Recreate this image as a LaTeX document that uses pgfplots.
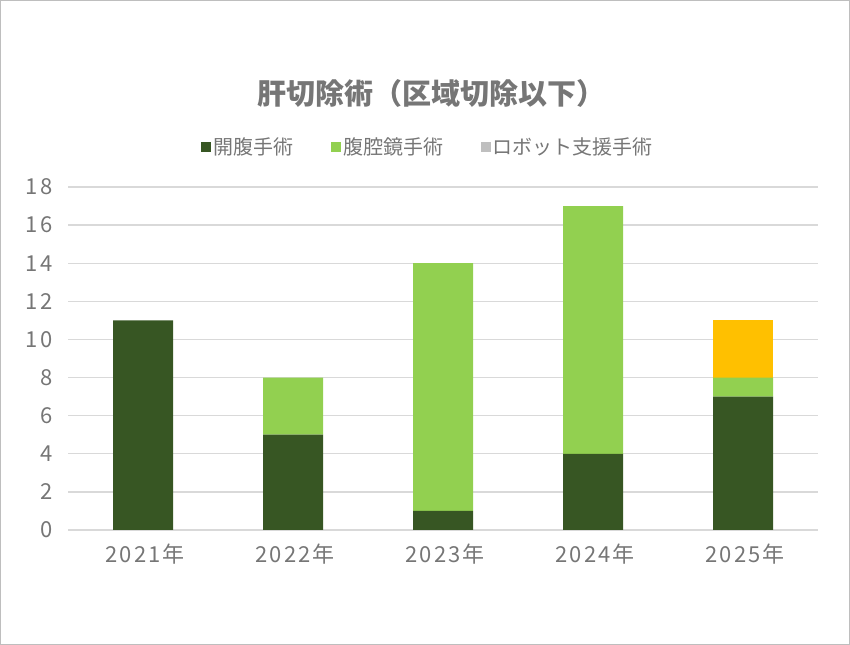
\documentclass[border=0pt]{standalone}
\usepackage{pgfplots}
\pgfplotsset{compat=1.18}
\usepackage{fontspec}
\setmainfont{Noto Sans CJK JP}
\definecolor{txt}{RGB}{118,118,118}
\definecolor{dg}{RGB}{55,86,35}
\definecolor{lg}{RGB}{146,208,80}
\definecolor{og}{RGB}{255,192,0}
\definecolor{lgray}{RGB}{191,191,191}
\definecolor{gridc}{RGB}{217,217,217}
\begin{document}
\begin{tikzpicture}[x=1bp,y=1bp]
\useasboundingbox (0,0) rectangle (850,645);
\draw[color={rgb,255:red,190;green,190;blue,190},line width=1bp] (0.5,0.5) rectangle (849.5,644.5);
\node[text=txt,font=\fontsize{29bp}{34bp}\selectfont\bfseries] at (431,552) {肝切除術（区域切除以下）};
\begin{axis}[
  at={(68bp,115bp)}, anchor=south west,
  scale only axis, width=750bp, height=343bp,
  ybar stacked, bar width=60bp,
  xmin=-0.5, xmax=4.5, ymin=0, ymax=18,
  xtick={0,1,2,3,4},
  xticklabels={2021年,2022年,2023年,2024年,2025年},
  ytick={0,2,...,18},
  xmajorgrids=false, ymajorgrids=true,
  grid style={color=gridc, line width=1.3bp},
  axis line style={draw=none},
  major tick length=0pt,
  tick label style={text=txt, font=\fontsize{22bp}{26bp}\selectfont\addfontfeature{LetterSpace=10}},
  /pgf/number format/assume math mode=true,
  xticklabel style={yshift=-10bp, xshift=2bp},
  yticklabel style={xshift=-12bp},
  legend columns=3,
  legend style={at={(0.48,1.1166)}, anchor=center, draw=none, fill=none,
    font=\fontsize{20bp}{24bp}\selectfont, text=txt,
    /tikz/every even column/.append style={column sep=36bp}},
  legend image code/.code={\fill[#1] (0bp,-5bp) rectangle (10bp,5bp);},
]
\addplot[fill=dg, draw=none] coordinates {(0,11) (1,5) (2,1) (3,4) (4,7)};
\addlegendentry{開腹手術}
\addplot[fill=lg, draw=none] coordinates {(0,0) (1,3) (2,13) (3,13) (4,1)};
\addlegendentry{腹腔鏡手術}
\addplot[fill=og, draw=none, forget plot] coordinates {(0,0) (1,0) (2,0) (3,0) (4,3)};
\addlegendimage{fill=lgray, draw=none}
\addlegendentry{ロボット支援手術}
\end{axis}
\end{tikzpicture}
\end{document}
